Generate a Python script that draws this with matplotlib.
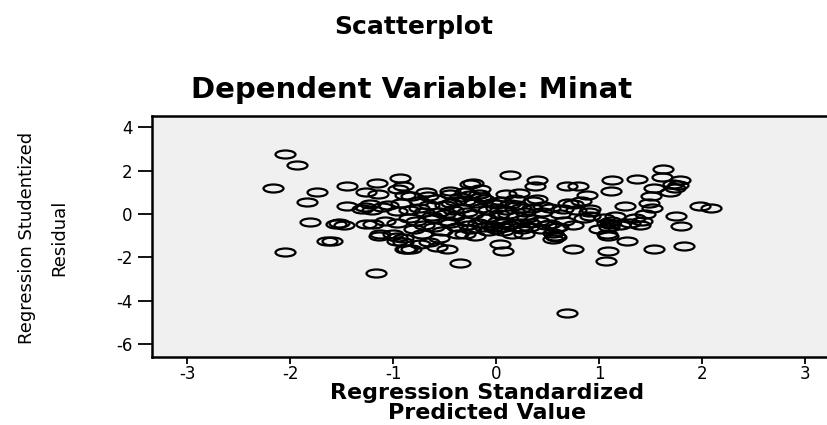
import numpy as np
import matplotlib.pyplot as plt
from matplotlib.path import Path
from matplotlib.transforms import Affine2D

# SPSS residual plot: studentized residual vs standardized predicted value
title = "Scatterplot"
subtitle = "Dependent Variable: Minat"
xlabel = "Regression Standardized\nPredicted Value"
ylabel = "Regression Studentized\nResidual"

xticks = [-3, -2, -1, 0, 1, 2, 3]
yticks = [-6, -4, -2, 0, 2, 4]

# values, left to right roughly
pred = [-2.05, -1.93, -2.17, -1.74, -1.84, -1.81, -2.05, -1.55, -1.48, -1.52,
        -1.64, -1.59, -1.17, -1.45, -1.45, -1.16, -1.26, -1.27, -1.11, -1.26,
        -1.14, -1.22, -1.20, -1.30, -1.15, -1.19, -1.13, -1.05, -1.08,
        -0.93, -0.95, -0.96, -0.96, -0.96, -0.88, -0.92, -1.00, -0.85, -0.90,
        -0.90, -0.96, -0.86, -0.85, -0.80, -0.88,
        -0.83, -0.66, -0.45, -0.75, -0.70, -0.78, -0.60, -0.65, -0.72, -0.55,
        -0.48, -0.83, -0.90, -0.50, -0.55, -0.60, -0.45, -0.74, -0.57, -0.45,
        -0.75, -0.70, -0.65, -0.62, -0.58, -0.52, -0.50, -0.47, -0.44, -0.68,
        -0.40, -0.35, -0.42, -0.38, -0.30, -0.35, -0.22, -0.16, -0.25, -0.20,
        -0.28, -0.30, -0.25, -0.20, -0.15, -0.10, -0.12, -0.05, -0.08, -0.40,
        -0.37, -0.33, -0.30, -0.27, -0.22, -0.18, -0.15, -0.12, -0.08, -0.04,
        -0.30, -0.25, -0.17, -0.03,
        0.00, 0.02, 0.05, 0.08, 0.04, 0.07, 0.10, 0.14, 0.12, 0.15,
        0.20, 0.22, 0.25, 0.28, 0.30, 0.32, 0.35, 0.40, 0.38, 0.40,
        0.42, 0.45, 0.48, 0.52, 0.55, 0.55, 0.57, 0.00, 0.03, 0.06,
        0.10, 0.13, 0.18, 0.20, 0.24, 0.27, 0.33, 0.36, 0.44, 0.22,
        0.00, 0.14, 0.07, 0.23, 0.46, 0.52, 0.59,
        0.69, 0.69, 0.80, 0.88, 0.62, 0.66, 0.70, 0.75, 0.78, 0.82,
        0.85, 0.90, 0.75, 0.60, 0.65, 0.75, 0.91, 0.91, 1.05, 1.08,
        1.12, 1.10, 1.15, 1.20, 1.13, 1.12, 1.25, 1.27, 1.09, 1.09,
        1.07, 1.00, 1.30, 1.35, 1.08, 1.11, 0.58,
        1.37, 1.62, 1.61, 1.53, 1.50, 1.48, 1.51, 1.45, 1.42, 1.40,
        1.79, 1.77, 1.74, 1.69, 1.72, 1.98, 2.09, 1.75, 1.80, 1.82,
        1.53]
resid = [2.78, 2.24, 1.21, 1.00, 0.57, -0.38, -1.74, -0.46, -0.50, -0.40,
         -1.23, -1.23, -2.74, 1.28, 0.39, 1.44, 1.00, 0.31, 0.31, -0.46,
         -1.00, 0.45, 0.20, 0.25, 0.94, -0.44, -0.90, 0.40, -0.30,
         1.65, 1.16, 0.16, -0.40, -1.23, -1.60, 0.50, -0.90, -0.20, -1.10,
         1.31, -1.08, -1.59, 0.20, -0.70, 0.90,
         0.85, 0.85, 0.94, 0.60, 0.10, -0.30, -0.60, -1.30, -0.90, -1.10,
         -1.62, -1.62, -1.31, 0.40, 0.10, -0.20, -0.40, -1.36, -1.54, 1.08,
         0.30, -0.50, 0.40, -0.10, 0.70, -0.80, 0.00, -0.30, 0.50, 1.00,
         0.60, 0.80, 0.20, -0.60, -0.90, -2.24, 1.41, 1.17, 0.90, 0.50,
         0.10, -0.30, -0.70, -1.00, 0.30, -0.20, 0.70, -0.50, -0.80, -0.10,
         -0.90, 0.30, 0.60, -0.50, 0.00, -0.40, 0.80, -0.60, 0.20, 0.50,
         1.00, 1.40, 0.94, -0.62,
         0.30, -0.30, 0.60, -0.60, -1.37, -1.69, 0.93, 1.81, 0.00, -0.90,
         0.40, -0.40, -0.70, 0.10, -0.20, -0.60, 0.30, 1.55, 1.31, 0.70,
         -0.30, 0.10, -0.50, 0.30, -0.86, -1.14, -1.00, -0.70, 0.00, -0.40,
         0.20, -0.50, 0.70, -0.10, 0.30, -0.90, -0.40, 0.60, -0.70, 0.95,
         0.48, 0.48, -0.76, -0.62, 0.39, -0.44, -0.62,
         -4.58, 1.31, 1.31, 0.88, 0.00, -0.30, 0.50, -0.50, 0.20, 0.60,
         -0.20, 0.10, -1.62, -0.60, 0.25, 0.48, 0.25, -0.07, -0.20, -0.40,
         -0.30, -0.60, -0.10, -0.50, 1.55, 1.08, 0.39, -1.23, -1.00, -1.69,
         -2.16, -0.70, -0.40, -0.20, -0.90, -0.44, -1.05,
         1.62, 2.09, 1.70, 1.18, 0.85, 0.53, 0.30, 0.00, -0.30, -0.50,
         1.55, 1.32, 1.18, 1.00, 1.40, 0.36, 0.27, -0.07, -0.57, -1.46,
         -1.59]

plt.rcParams['axes.unicode_minus'] = False
plt.rcParams['font.family'] = ['DejaVu Sans']

W, H = 827, 425
fig = plt.figure(figsize=(W / 100, H / 100), dpi=100)
fig.patch.set_facecolor('white')

# plot frame in pixel terms, right side runs off the image like the original
ax = fig.add_axes([152 / W, (H - 357) / H, (836 - 152) / W, (357 - 116) / H])
ax.set_facecolor('#f0f0f0')

# wide hollow ellipse marker (SPSS circles look squashed in the picture)
ell = Path.unit_circle().transformed(Affine2D().scale(2.5, 1))
ax.plot(pred, resid, linestyle='none', marker=ell, ms=14.4,
        mfc='none', mec='black', mew=1.6)

ax.set_xlim(-3.34, 3.3)
ax.set_ylim(-6.59, 4.52)
ax.set_xticks(xticks)
ax.set_yticks(yticks)
ax.tick_params(axis='both', direction='out', width=1.3, labelsize=12,
               colors='black')
ax.tick_params(axis='y', length=10, pad=4)
ax.tick_params(axis='x', length=5, pad=1)
for s in ax.spines.values():
    s.set_linewidth(1.8)

fig.text(414 / W, 1 - 27 / H, title, ha='center', va='center',
         fontsize=18, fontweight='bold')
fig.text(412 / W, 1 - 90 / H, subtitle, ha='center', va='center',
         fontsize=21, fontweight='bold')
fig.text(487 / W, 1 - 403 / H, xlabel, ha='center', va='center',
         fontsize=16, fontweight='bold', linespacing=0.95)
fig.text(43 / W, 1 - 238 / H, ylabel, ha='center', va='center',
         rotation=90, fontsize=13, linespacing=2.0)

fig.savefig('out.png', dpi=100)
